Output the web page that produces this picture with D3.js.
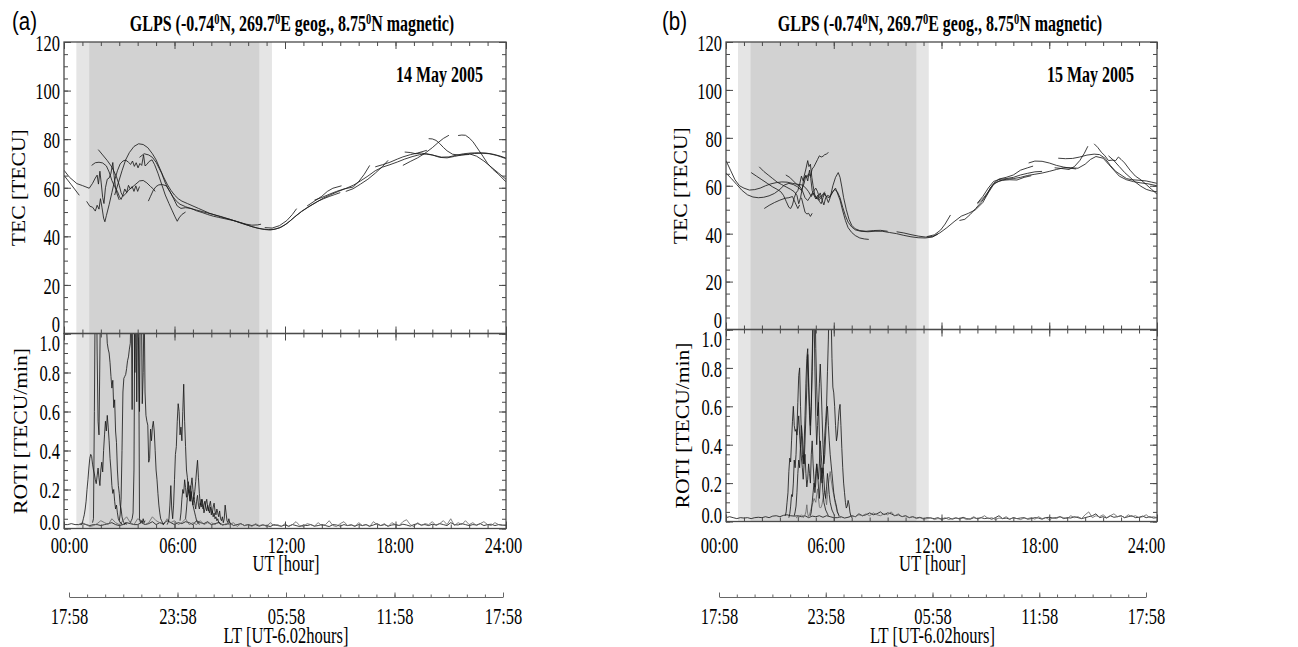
<!DOCTYPE html>
<html>
<head>
<meta charset="utf-8">
<script src="https://cdn.jsdelivr.net/npm/d3@7"></script>
<style>
  body { margin: 0; background: #fff; }
</style>
</head>
<body>
<div id="chart"></div>
<script>
// ---------------- data ----------------
var hourTicks = [0, 6, 12, 18, 24];
var utLabels = ["00:00", "06:00", "12:00", "18:00", "24:00"];
var ltLabels = ["17:58", "23:58", "05:58", "11:58", "17:58"];
var tecTicks = [0, 20, 40, 60, 80, 100, 120];
var rotiTicks = [0, 0.2, 0.4, 0.6, 0.8, 1.0];
var dates = ["14 May 2005", "15 May 2005"];
var titleParts = [["GLPS (-0.74", 0], ["0", 1], ["N, 269.7", 0], ["0", 1], ["E geog., 8.75", 0], ["0", 1], ["N magnetic)", 0]];

// night shading, UT hours: [start, end]
var nightLightA = [0.67, 11.29], nightDarkA = [1.37, 10.6];
var nightLightB = [0.67, 11.29], nightDarkB = [1.37, 10.6];

// TEC arcs, 14 May 2005: [UT hour, TECU]
var tecA = [
  [[0,67.2],[0.3,64.3],[0.7,61.7],[1.0,60.9],[1.37,59.8],[1.55,61.8],[1.7,64],[1.8,65.2],[1.87,61.5],[1.95,66.8],[2.02,62],[2.1,56],[2.17,53.5],[2.25,60],[2.35,63.5],[2.45,64],[2.55,66],[2.65,70.4],[2.72,65],[2.8,60],[2.9,57],[3.0,55]],
  [[0,65.1],[0.4,61.2],[0.83,56.9]],
  [[1.23,54.4],[1.4,52.4],[1.55,52],[1.7,50.4],[1.8,52.8],[1.9,51.2],[1.98,55.5],[2.06,52],[2.15,47.5],[2.22,46],[2.3,48.5],[2.45,53],[2.6,58],[2.75,63],[2.9,67],[3.05,69.8],[3.2,71],[3.35,71.4],[3.5,70.5],[3.62,69.6],[3.72,71],[3.82,68.8],[3.92,70.3],[4.02,68.2],[4.12,70],[4.22,69.2],[4.32,73.5],[4.4,69],[4.5,69.6],[4.62,70.8],[4.78,71.5],[4.92,69.5],[5.1,66],[5.3,61.5],[5.5,57],[5.7,53.5],[5.88,50.5],[6.03,48],[6.15,46.2],[6.25,47.6],[6.4,49],[6.6,50]],
  [[2.75,57],[2.95,62],[3.15,67],[3.35,71.5],[3.55,74.5],[3.8,77],[4.05,78.1],[4.3,77.8],[4.55,76.5],[4.8,74],[5.0,71.5],[5.2,68],[5.4,64.5],[5.6,61.5],[5.8,59],[6.0,57],[6.2,55.5],[6.4,54.5],[6.7,53.5],[7.0,52.5],[7.3,51.5],[7.6,50.5],[7.9,49.5],[8.2,48.8],[8.5,48.2],[8.8,47.5],[9.1,46.8],[9.4,46],[9.7,45.2],[10.0,44.5],[10.3,43.8],[10.6,43.2],[10.9,42.8],[11.2,42.6],[11.5,43],[11.8,43.8],[12.1,45.2],[12.5,47.8],[12.9,50.2],[13.3,52.2],[13.7,54],[14.1,55.8],[14.5,57.2],[14.9,58.5],[15.3,59.7],[15.7,61],[16.1,62.8],[16.5,64.8],[16.9,67],[17.3,68.5],[17.7,69.5],[18.1,70.6],[18.5,71.8],[18.9,72.8],[19.3,73.6],[19.7,74],[20.1,73.3],[20.5,72.6],[20.9,72.7],[21.3,73.4],[21.7,74],[22.1,74.3],[22.5,74.4],[22.9,74.3],[23.3,73.8],[23.7,73],[24,72.2]],
  [[1.86,75.7],[2.1,73.5],[2.35,71.2],[2.6,68.5],[2.85,64.5],[3.0,61],[3.1,58],[3.2,56.5],[3.35,57.5],[3.5,59],[3.7,60.2],[3.9,61.5],[4.1,62.8],[4.3,63],[4.5,62],[4.7,60.5],[4.85,59.5],[4.95,58.5]],
  [[1.5,69.2],[1.7,70.3],[1.9,70.5],[2.1,70.2],[2.3,69],[2.45,66.5],[2.6,63],[2.75,60.5],[2.9,58.5],[3.0,56.5],[3.1,55.2],[3.2,57],[3.3,59.5],[3.4,58],[3.5,61],[3.6,59.5],[3.7,60.5],[3.8,58.5],[3.9,60.8],[4.0,58.5],[4.1,60.5]],
  [[4.58,54.5],[4.7,56.5],[4.85,59],[5.0,60.5],[5.15,61.2],[5.35,61.3],[5.55,60.8],[5.75,58.5],[5.95,55.5],[6.15,52.5],[6.35,51.5],[6.6,51.8],[6.9,51.5],[7.2,50.5],[7.5,49.8],[7.8,49],[8.1,48.3],[8.4,47.8],[8.7,47.3],[9.0,46.8],[9.3,46.3],[9.6,45.6],[9.9,45],[10.2,44.6],[10.5,44.7],[10.7,45]],
  [[4.1,72.5],[4.35,74],[4.6,73.5],[4.8,72.5],[5.0,70.5],[5.3,66],[5.5,62],[5.7,59],[5.9,56.5],[6.1,54.5],[6.3,53.2],[6.6,52.2],[6.9,51.4],[7.2,50.8],[7.5,50.2],[7.8,49.6],[8.1,49],[8.4,48.3],[8.7,47.6],[9.0,47],[9.3,46.3],[9.6,45.6],[9.9,44.8],[10.2,44],[10.5,43.4],[10.8,43],[11.1,42.8],[11.4,42.9],[11.7,43.5],[12.0,44.8],[12.3,46.5],[12.6,48.5],[12.9,50.3],[13.2,51.8],[13.5,53.2],[13.8,54.5],[14.1,55.5],[14.4,56.4],[14.7,57.2],[15.0,58]],
  [[10.9,43.6],[11.3,43.4],[11.7,44.4],[12.1,46.5],[12.4,49],[12.63,51.4]],
  [[13.6,54.9],[14.0,56],[14.4,57.3],[14.8,58.5],[15.2,59.5],[15.7,60.3],[16.0,62.5],[16.3,65.5],[16.6,69.2]],
  [[13.2,52.5],[13.6,54.5],[14.0,56.5],[14.3,58.5],[14.6,59.8],[15.07,60.8]],
  [[15.3,58.5],[15.7,59.6],[16.1,61.5],[16.5,63.5],[16.9,66],[17.3,68.8],[17.6,71.3]],
  [[16.9,68.6],[17.3,69.5],[17.7,70.5],[18.1,71.8],[18.4,72.7],[18.8,73.6],[19.2,74.3],[19.7,75.4]],
  [[18.5,74.7],[18.8,74.5],[19.1,74],[19.4,74.3],[19.7,73.8],[20.0,73.5],[20.4,72.5],[20.8,72.3],[21.2,72.9],[21.6,73.5],[22.0,73.7]],
  [[18.4,69.2],[18.8,70.8],[19.2,72.3],[19.6,74.2],[20.0,76.5],[20.3,78.5],[20.6,80.3],[20.9,81.6]],
  [[19.8,80.2],[20.0,80.1],[20.2,79.5],[20.4,78.2],[20.6,76.6],[20.8,75.2],[21.1,73.8],[21.5,73.4],[21.9,73.8],[22.3,74.1],[22.7,74.2],[23.1,74],[23.5,73.3],[24,72]],
  [[21.4,81.5],[21.6,81.7],[21.8,81.6],[22.0,80.5],[22.2,79],[22.4,76.8],[22.7,73.5],[23.0,70],[23.3,67.5],[23.6,65.5],[24,62.4]],
  [[22.0,74],[22.4,73],[22.8,71],[23.2,68.5],[23.6,66],[24,63.5]]
];

// TEC arcs, 15 May 2005
var tecB = [
  [[0,70.5],[0.25,66.5],[0.5,62.5],[0.75,60],[1.0,59],[1.3,58.2],[1.6,58.4],[1.9,59],[2.2,60],[2.5,60.8],[2.8,61.3],[3.1,61.6],[3.4,61.5],[3.7,61],[4.0,60.6],[4.25,60.3],[4.45,59],[4.6,57.5],[4.75,55.5],[4.85,57],[5.0,55.5],[5.15,54],[5.3,55],[5.45,56.5],[5.6,55.5],[5.75,55],[5.9,57],[6.05,58.5],[6.2,57.5],[6.35,55],[6.5,51],[6.65,47.5],[6.8,44.8],[7.0,42.8],[7.2,41.6],[7.5,41],[7.9,40.8],[8.3,41],[8.7,41],[9.1,40.5],[9.5,40],[9.9,39.3],[10.3,38.7],[10.7,38.3],[11.1,38.2],[11.5,38.6],[11.8,39.8]],
  [[0,65.3],[0.3,63],[0.6,60.5],[0.9,58],[1.2,56.2],[1.5,55.3],[1.8,55],[2.1,55.2],[2.4,55.8],[2.7,56.8],[3.0,58.5],[3.25,60.3],[3.5,61],[3.75,60.5],[4.0,59.5],[4.2,58],[4.35,61],[4.45,64.5],[4.55,62],[4.65,66.5],[4.72,63],[4.8,58],[4.9,56],[5.0,54.5],[5.1,56],[5.2,53.5],[5.3,52.5],[5.4,55],[5.5,57],[5.6,55],[5.7,53],[5.8,55],[5.95,60],[6.1,63.5],[6.25,65.5],[6.35,63.5],[6.45,59.5],[6.55,55],[6.7,50],[6.85,46],[7.0,43.5],[7.2,42],[7.45,41.3],[7.8,41],[8.2,41.3],[8.6,41.4],[9.0,41]],
  [[1.4,65.5],[1.7,64],[2.0,62.5],[2.3,61],[2.6,59.5],[2.85,58.5],[3.05,57.5],[3.2,56],[3.35,53.5],[3.5,51],[3.6,50.5],[3.7,52],[3.8,55],[3.9,57],[4.0,58],[4.1,60.5],[4.2,64],[4.3,62],[4.4,64],[4.5,63.5],[4.6,65],[4.7,64],[4.8,67],[4.9,68],[5.0,69.5],[5.1,71],[5.2,72.5],[5.3,72],[5.4,72.3],[5.5,73],[5.6,73.2],[5.7,74]],
  [[1.85,67.9],[2.1,66],[2.35,64.5],[2.6,63],[2.85,61.5],[3.1,60.5],[3.35,59.5],[3.6,58.5],[3.8,57.5],[3.95,56],[4.05,52.5],[4.15,55],[4.25,59],[4.35,64],[4.45,67],[4.55,70.5],[4.62,68],[4.7,69],[4.78,63.5],[4.85,60],[4.95,56],[5.05,54.5],[5.15,55.5],[5.25,57],[5.35,54],[5.45,52],[5.55,55],[5.65,56],[5.8,55.5],[5.95,57.5],[6.1,59],[6.2,57],[6.35,54],[6.5,49.5],[6.65,45.5],[6.8,42.5],[7.0,40.5],[7.2,39.2],[7.45,38.2],[7.7,37.8],[7.95,37.6]],
  [[2.13,50.5],[2.4,51.8],[2.7,53],[3.0,54],[3.3,54.8],[3.5,55],[3.7,55.5],[3.85,53],[4.0,50.5],[4.1,52]],
  [[4.2,55],[4.3,52],[4.4,49],[4.5,48.2],[4.6,48.5],[4.7,47.2],[4.8,48.5]],
  [[3.33,64.5],[3.55,63.5],[3.75,62],[3.95,60.5],[4.1,59.8],[4.25,58],[4.4,55],[4.55,53.8],[4.7,55.5],[4.85,57.5],[5.0,59],[5.1,57.5],[5.2,55],[5.35,56],[5.5,57.5]],
  [[9.5,40.8],[9.9,40.3],[10.3,39.6],[10.7,39],[11.1,38.6],[11.5,38.8],[11.9,40.3],[12.3,42.5],[12.7,45],[13.1,47.3],[13.5,48.5],[13.9,50],[14.3,53],[14.6,57],[14.9,60.5],[15.2,62],[15.6,62.7],[16.0,63],[16.4,63.5],[16.8,64.3],[17.2,64.8],[17.6,65.3],[18.0,66],[18.4,66.8],[18.8,67.5],[19.2,67.5],[19.6,67.3],[20.0,69],[20.3,71],[20.6,72.2],[21.0,71.5],[21.3,69],[21.6,66.5],[21.9,64],[22.3,62.5],[22.7,61.7],[23.1,61.2],[23.5,60.8],[24,60]],
  [[11.2,38.8],[11.6,39.5],[11.95,41.5],[12.2,44],[12.5,47.8]],
  [[13.0,45.5],[13.3,46],[13.6,48],[13.9,50.5],[14.2,53],[14.5,56],[14.75,59.5],[15.0,61.3],[15.4,62.3],[15.8,62.5],[16.2,62.4],[16.6,63.5],[17.0,64.2]],
  [[14.0,52.5],[14.3,54.5],[14.6,57.5],[14.9,61],[15.2,62.8],[15.6,63.5],[16.0,64.5],[16.4,66.5],[16.8,67.5],[17.1,68.2]],
  [[16.85,69.5],[17.2,70.3],[17.6,70.2],[18.0,69.5],[18.4,68.5],[18.8,67.8],[19.2,67.3],[19.5,67]],
  [[18.5,71.5],[18.9,71.3],[19.3,71.4],[19.7,72],[20.1,72.8],[20.5,73.2],[20.8,73],[21.1,71.5],[21.4,68.5],[21.7,66],[22.0,64.5],[22.3,63],[22.6,62.5],[23.0,62.3],[23.4,62],[23.7,61.5],[24,61]],
  [[18.3,67.5],[18.7,67.2],[19.1,66.8],[19.4,68],[19.7,70.5],[19.95,73.5],[20.15,76.5]],
  [[20.5,77.5],[20.7,76],[20.9,74],[21.1,72.5],[21.3,70.5],[21.5,70.7],[21.7,70.5],[21.85,72],[22.0,71],[22.2,69.5],[22.5,66.5],[22.8,64],[23.1,62.5],[23.4,60.5],[23.7,58.5],[24,56.5]],
  [[21.3,72.5],[21.6,70.5],[21.9,68],[22.2,65.5],[22.5,63.5],[22.8,61.5],[23.1,59.8],[23.4,58.5],[23.7,57.8],[24,57.5]],
  [[14.0,52.8],[14.3,55.5],[14.6,59],[14.9,61.8],[15.2,62.6],[15.6,63],[16.0,63.5],[16.4,64.5],[16.8,65.2],[17.2,65.8],[17.6,66]]
];

// ROTI series: start hour, step (hours), values (TECU/min)
var rotiA = [
  {t0: 0, dt: 0.2, gray: 0, v: [0.02,0.02,0.025,0.02,0.02,0.025,0.02,0.015,0.02,0.02,0.015,
    0.02,0.025,0.03,0.02,0.015,0.02,0.03,0.025,0.02,0.02, 0.03,0.02,0.025,0.035,0.02,0.03,0.025,0.04,0.03,0.02,
    0.03,0.025,0.035,0.03,0.02,0.04,0.03,0.025,0.035,0.02, 0.025,0.03,0.02,0.02,0.03,0.015,0.02,0.025,0.015,0.02,
    0.015,0.02,0.012,0.018,0.015,0.01,0.02,0.015,0.012,0.018, 0.012,0.02,0.015,0.01,0.018,0.015,0.02,0.012,0.015,0.02,
    0.015,0.01,0.02,0.018,0.012,0.02,0.015,0.018,0.012,0.02, 0.015,0.02,0.012,0.018,0.025,0.015,0.02,0.012,0.018,0.02,
    0.015,0.022,0.018,0.012,0.02,0.025,0.018,0.02,0.015,0.022, 0.018,0.025,0.02,0.015,0.03,0.02,0.018,0.025,0.02,0.015,
    0.02,0.018,0.025,0.015,0.02,0.022,0.015,0.02,0.018,0.015]},
  {t0: 8.0, dt: 0.2, gray: 1, v: [0.03,0.02,0.035,0.015,0.025,0.02,0.03,0.01,0.025,0.015,
    0.02,0.01,0.025,0.015,0.02,0.01,0.03,0.015,0.02,0.01, 0.025,0.01,0.02,0.035,0.015,0.01,0.025,0.02,0.012,0.03,
    0.015,0.02,0.04,0.015,0.01,0.025,0.035,0.015,0.02,0.01, 0.03,0.015,0.02,0.01,0.035,0.02,0.015,0.025,0.01,0.03,
    0.02,0.015,0.035,0.045,0.02,0.01,0.03,0.015,0.025,0.02, 0.035,0.015,0.025,0.04,0.02,0.05,0.015,0.03,0.02,0.04,
    0.02,0.03,0.015,0.025,0.035,0.02,0.015,0.03,0.02,0.015,0.02]},
  {t0: 0.8, dt: 0.2, gray: 1, v: [0.02,0.03,0.02,0.01,0.015,0.025,0.04,0.03,0.02,0.05,0.03,0.02,0.04,0.06,0.03,0.02,0.05,0.04,0.02,0.03,0.06,0.04,0.03,0.02,0.05,0.03,0.04,0.02,0.03,0.05,0.02,0.03,0.02,0.04,0.02,0.03,0.02]},
  {t0: 0.9, dt: 0.05, gray: 0, v: [0.02,0.02,0.03,0.05,0.07,0.10,0.14,0.20,0.25,0.31,0.36,0.38,0.37,0.33,0.30,0.28,0.25,0.23,0.27,0.31,0.26,0.22,0.30,0.34,0.29,0.40,0.48,0.55,0.50,0.58,0.52,0.45,0.36,0.30,0.22,0.18,0.20,0.14,0.10,0.12,0.08,0.05,0.04,0.03,0.03,0.02]},
  {t0: 1.55, dt: 0.05, gray: 0, v: [0.03,0.05,0.60,1.30,1.40,0.90,0.55,0.48,0.90,1.30,1.20,1.10,1.20,1.25,1.15,1.05,0.95,0.92,0.90,0.85,0.78,0.72,0.76,0.62,0.66,0.50,0.44,0.30,0.22,0.18,0.12,0.10,0.06,0.04,0.03,0.02,0.03,0.02]},
  {t0: 3.0, dt: 0.05, gray: 0, v: [0.04,0.07,0.15,0.40,0.70,0.77,0.78,0.79,0.82,0.86,0.88,0.92,0.95,1.20,0.61,1.30,1.50,0.80,1.30,1.40,1.20,0.92,0.60,1.30,1.20,0.64,0.80,1.20,0.70,0.58,0.55,0.53,0.34,0.36,0.51,0.45,0.52,0.55,0.50,0.40,0.30,0.25,0.18,0.12,0.08,0.05,0.04,0.03,0.02,0.03]},
  {t0: 3.6, dt: 0.05, gray: 0, v: [0.03,0.04,0.05,0.08,0.30,1.20,1.30,0.65,1.20,1.10,0.05,0.03,0.04,0.03,0.05,0.03,0.04]},
  {t0: 5.6, dt: 0.05, gray: 0, v: [0.02,0.03,0.05,0.12,0.22,0.10,0.05,0.12,0.25,0.38,0.42,0.55,0.64,0.60,0.48,0.52,0.45,0.60,0.74,0.55,0.42,0.30,0.26,0.20,0.18,0.22,0.19,0.15,0.12,0.10,0.08,0.06,0.04,0.03,0.03,0.02]},
  {t0: 6.3, dt: 0.05, gray: 0, v: [0.04,0.08,0.15,0.20,0.18,0.25,0.21,0.16,0.20,0.24,0.18,0.14,0.22,0.26,0.20,0.15,0.19,0.24,0.30,0.35,0.26,0.18,0.12,0.15,0.13,0.10,0.12,0.14,0.11,0.09,0.12,0.10,0.08,0.11,0.07,0.09,0.06,0.08,0.05,0.06,0.04,0.05,0.03,0.03,0.02]},
  {t0: 6.6, dt: 0.05, gray: 0, v: [0.05,0.10,0.16,0.20,0.17,0.14,0.19,0.15,0.12,0.16,0.13,0.10,0.14,0.17,0.12,0.10,0.13,0.11,0.15,0.12,0.08,0.10,0.13,0.15,0.11,0.09,0.12,0.14,0.10,0.08,0.11,0.13,0.09,0.07,0.10,0.08,0.06,0.09,0.05,0.04,0.06,0.03,0.05,0.12,0.08,0.04,0.03,0.05,0.03,0.02]}
];

var rotiB = [
  {t0: 0, dt: 0.2, gray: 0, v: [0.02,0.025,0.02,0.015,0.02,0.018,0.02,0.015,0.02,0.022,0.02,
    0.025,0.02,0.028,0.03,0.025,0.032,0.035,0.03,0.028,0.03, 0.025,0.03,0.02,0.028,0.025,0.03,0.022,0.03,0.025,0.02,
    0.02,0.025,0.018,0.022,0.03,0.025,0.04,0.03,0.035,0.045, 0.035,0.04,0.05,0.035,0.045,0.04,0.03,0.035,0.025,0.03,
    0.02,0.025,0.018,0.022,0.015,0.02,0.018,0.015,0.02,0.012, 0.015,0.02,0.012,0.018,0.015,0.022,0.015,0.012,0.02,0.015,
    0.02,0.015,0.018,0.012,0.02,0.03,0.015,0.018,0.012,0.02, 0.015,0.018,0.02,0.012,0.015,0.02,0.018,0.012,0.02,0.022,
    0.018,0.02,0.025,0.015,0.02,0.018,0.025,0.02,0.015,0.02, 0.025,0.03,0.04,0.02,0.025,0.018,0.03,0.022,0.025,0.03,
    0.02,0.025,0.03,0.02,0.022,0.028,0.02,0.025,0.018,0.02]},
  {t0: 6.8, dt: 0.2, gray: 1, v: [0.02,0.03,0.025,0.035,0.03,0.04,0.03,0.045,0.035,0.03,
    0.04,0.035,0.05,0.03,0.04,0.025,0.03,0.02,0.025,0.015, 0.02,0.012,0.015,0.02,0.01,0.015,0.012,0.02,0.01,0.015,
    0.02,0.012,0.018,0.01,0.015,0.025,0.012,0.02,0.03,0.015, 0.02,0.01,0.018,0.015,0.025,0.012,0.02,0.015,0.01,0.018,
    0.015,0.02,0.012,0.025,0.015,0.02,0.01,0.018,0.015,0.025, 0.02,0.015,0.03,0.02,0.025,0.015,0.035,0.05,0.02,0.03,
    0.025,0.035,0.02,0.03,0.04,0.025,0.03,0.02,0.035,0.025, 0.03,0.02,0.025,0.035,0.02,0.025,0.02]},
  {t0: 3.9, dt: 0.05, gray: 1, v: [0.02,0.02,0.03,0.02,0.03,0.03,0.035,0.03,0.02,0.03,0.035,0.05,0.087,0.04,0.026,0.035,0.052,0.07,0.087,0.1,0.12,0.11,0.1,0.14,0.17,0.12,0.078,0.07,0.075,0.09,0.12,0.14,0.16,0.12,0.087,0.14,0.19,0.23,0.26,0.22,0.19,0.16,0.14,0.11,0.087,0.07,0.052,0.04,0.026,0.02,0.02]},
  {t0: 3.3, dt: 0.05, gray: 0, v: [0.03,0.05,0.10,0.15,0.26,0.33,0.31,0.42,0.52,0.60,0.50,0.47,0.48,0.45,0.50,0.55,0.45,0.38,0.33,0.28,0.22,0.30,0.35,0.25,0.18,0.22,0.30,0.25,0.20,0.35,0.42,0.30,0.22,0.15,0.20,0.30,0.25,0.18,0.12,0.20,0.28,0.22,0.15,0.10,0.08,0.06,0.05,0.04,0.03]},
  {t0: 3.5, dt: 0.05, gray: 0, v: [0.02,0.04,0.08,0.14,0.13,0.20,0.32,0.28,0.35,0.48,0.62,0.76,0.80,0.60,0.45,0.35,0.30,0.40,0.55,0.72,0.85,0.90,0.70,0.55,0.45,0.60,0.78,1.05,1.10,0.80,0.55,0.40,0.50,0.62,0.45,0.30,0.25,0.20,0.28,0.22,0.15,0.12,0.18,0.25,0.20,0.14,0.10,0.08,0.06,0.05,0.04,0.03]},
  {t0: 3.8, dt: 0.05, gray: 0, v: [0.03,0.05,0.08,0.15,0.25,0.32,0.28,0.40,0.50,0.45,0.35,0.30,0.42,0.55,0.70,0.87,0.75,0.60,0.50,0.62,0.85,1.10,1.30,1.20,0.90,0.70,0.55,0.60,0.72,0.82,0.70,0.55,0.40,0.30,0.35,0.45,0.55,0.60,0.50,0.42,0.35,0.30,0.25,0.20,0.15,0.12,0.10,0.08,0.05,0.04,0.03]},
  {t0: 4.7, dt: 0.05, gray: 0, v: [0.03,0.05,0.10,0.15,0.20,0.18,0.25,0.30,0.26,0.22,0.30,0.42,0.35,0.28,0.25,0.35,0.45,0.52,0.60,0.78,0.95,1.20,1.30,1.10,0.85,0.70,0.67,0.60,0.50,0.42,0.45,0.52,0.58,0.61,0.50,0.38,0.28,0.20,0.15,0.10,0.07,0.08,0.11,0.09,0.05,0.03,0.02]}
];

// ---------------- drawing ----------------
var K = 1.45;           // vertical stretch of the original lettering
var SERIF = "'Liberation Serif','Times New Roman',Times,serif";
var SANS = "'Liberation Sans',Arial,Helvetica,sans-serif";
var AX = "#4a4a4a";
var LINE = "#1c1c1c";
var FS = 16.5;

var svg = d3.select("#chart").append("svg")
  .attr("width", 1298).attr("height", 647)
  .style("background", "#fff");
var defs = svg.append("defs");

// move x/y into a transform so the glyphs can be stretched vertically
function stretch(sel, k) {
  sel.each(function() {
    var t = d3.select(this);
    var x = +t.attr("x") || 0, y = +t.attr("y") || 0;
    t.attr("x", null).attr("y", null)
      .attr("transform", "translate(" + x + "," + y + ") scale(1," + (k || K) + ")");
  });
}

function label(g, x, y, str, size, anchor, weight) {
  var t = g.append("text")
    .attr("x", x).attr("y", y).attr("dy", "0.35em")
    .attr("font-family", SERIF).attr("font-size", size)
    .attr("font-weight", weight || "normal")
    .attr("text-anchor", anchor || "middle")
    .text(str);
  stretch(t);
  return t;
}

function tickAxis(g, gen, scale, vals, len, fmt) {
  var a = gen(scale).tickValues(vals).tickSize(-len).tickPadding(4).tickFormat(fmt || "");
  g.call(a);
  g.select(".domain").remove();
  g.selectAll(".tick line").attr("stroke", AX).attr("stroke-width", 1);
  g.attr("font-family", SERIF).attr("font-size", FS);
  return g;
}

function drawPanel(p) {
  var x = d3.scaleLinear().domain([0, 24]).range([p.x0, p.x1]);
  var yT = d3.scaleLinear().domain([0, 120]).range([p.yMid, p.yTop]);
  var yR = d3.scaleLinear().domain([0, 1]).range([p.yBot, p.yMid]);
  var lt = d3.scaleLinear().domain([0, 24]).range([p.lt0, p.lt1]);
  var w = p.x1 - p.x0;
  var g = svg.append("g");

  // night shading
  g.append("rect").attr("x", x(p.light[0])).attr("width", x(p.light[1]) - x(p.light[0]))
    .attr("y", p.yTop).attr("height", p.yBot - p.yTop).attr("fill", "#e5e5e5");
  g.append("rect").attr("x", x(p.dark[0])).attr("width", x(p.dark[1]) - x(p.dark[0]))
    .attr("y", p.yTop).attr("height", p.yBot - p.yTop).attr("fill", "#d2d2d2");

  defs.append("clipPath").attr("id", "clipT" + p.id).append("rect")
    .attr("x", p.x0).attr("y", p.yTop).attr("width", w).attr("height", p.yMid - p.yTop);
  defs.append("clipPath").attr("id", "clipR" + p.id).append("rect")
    .attr("x", p.x0).attr("y", p.yMid).attr("width", w).attr("height", p.yBot - p.yMid);

  // TEC arcs
  var lineT = d3.line().x(function(d) { return x(d[0]); }).y(function(d) { return yT(d[1]); });
  g.append("g").attr("clip-path", "url(#clipT" + p.id + ")")
    .selectAll("path").data(p.tec).join("path")
    .attr("d", lineT).attr("fill", "none")
    .attr("stroke", LINE).attr("stroke-width", 0.85);

  // ROTI series
  var lineR = d3.line().x(function(d) { return x(d[0]); }).y(function(d) { return yR(d[1]); });
  var series = p.roti.map(function(s) {
    return { gray: s.gray, pts: s.v.map(function(v, i) { return [s.t0 + i * s.dt, v]; }) };
  });
  g.append("g").attr("clip-path", "url(#clipR" + p.id + ")")
    .selectAll("path").data(series).join("path")
    .attr("d", function(d) { return lineR(d.pts); }).attr("fill", "none")
    .attr("stroke", function(d) { return d.gray ? "#6a6a6a" : LINE; })
    .attr("stroke-width", 0.85);

  // frames
  g.append("rect").attr("x", p.x0).attr("y", p.yTop).attr("width", w).attr("height", p.yMid - p.yTop)
    .attr("fill", "none").attr("stroke", AX).attr("stroke-width", 1.3);
  g.append("rect").attr("x", p.x0).attr("y", p.yMid).attr("width", w).attr("height", p.yBot - p.yMid)
    .attr("fill", "none").attr("stroke", AX).attr("stroke-width", 1.3);

  var hours = d3.range(0, 25, 1);

  // TEC ticks
  tickAxis(g.append("g").attr("transform", "translate(" + p.x0 + ",0)"), d3.axisLeft, yT, d3.range(0, 121, 5), 4);
  var tl = tickAxis(g.append("g").attr("transform", "translate(" + p.x0 + ",0)"), d3.axisLeft, yT, tecTicks, 7, d3.format("d"));
  tl.selectAll(".tick text").attr("x", -4).attr("dy", "0.35em")
    .attr("y", function(d) { return d === 0 ? -10 : 0; });
  stretch(tl.selectAll(".tick text"));
  tickAxis(g.append("g").attr("transform", "translate(" + p.x1 + ",0)"), d3.axisRight, yT, d3.range(0, 121, 5), 4);
  tickAxis(g.append("g").attr("transform", "translate(" + p.x1 + ",0)"), d3.axisRight, yT, tecTicks, 7);
  tickAxis(g.append("g").attr("transform", "translate(0," + p.yTop + ")"), d3.axisTop, x, hours, 4);
  tickAxis(g.append("g").attr("transform", "translate(0," + p.yTop + ")"), d3.axisTop, x, hourTicks, 7);
  tickAxis(g.append("g").attr("transform", "translate(0," + p.yMid + ")"), d3.axisBottom, x, hours, 4);
  tickAxis(g.append("g").attr("transform", "translate(0," + p.yMid + ")"), d3.axisBottom, x, hourTicks, 7);

  // ROTI ticks
  tickAxis(g.append("g").attr("transform", "translate(" + p.x0 + ",0)"), d3.axisLeft, yR, d3.range(0, 1.001, 0.05), 4);
  var rl = tickAxis(g.append("g").attr("transform", "translate(" + p.x0 + ",0)"), d3.axisLeft, yR, rotiTicks, 7, d3.format(".1f"));
  rl.selectAll(".tick text").attr("x", -4).attr("dy", "0.35em")
    .attr("y", function(d) { return d === 0 ? -7 : (d === 1 ? 9 : 0); });
  stretch(rl.selectAll(".tick text"));
  tickAxis(g.append("g").attr("transform", "translate(" + p.x1 + ",0)"), d3.axisRight, yR, d3.range(0, 1.001, 0.05), 4);
  tickAxis(g.append("g").attr("transform", "translate(" + p.x1 + ",0)"), d3.axisRight, yR, rotiTicks, 7);
  tickAxis(g.append("g").attr("transform", "translate(0," + p.yMid + ")"), d3.axisTop, x, hours, 4);
  tickAxis(g.append("g").attr("transform", "translate(0," + p.yMid + ")"), d3.axisTop, x, hourTicks, 7);
  tickAxis(g.append("g").attr("transform", "translate(0," + p.yBot + ")"), d3.axisBottom, x, hours, 4);
  tickAxis(g.append("g").attr("transform", "translate(0," + p.yBot + ")"), d3.axisBottom, x, hourTicks, 7);

  // UT labels
  var ut = g.append("g").attr("transform", "translate(0,545)")
    .call(d3.axisBottom(lt).tickValues(hourTicks).tickSize(0)
      .tickFormat(function(d, i) { return utLabels[i]; }));
  ut.select(".domain").remove();
  ut.attr("font-family", SERIF).attr("font-size", FS);
  ut.selectAll(".tick text").attr("y", 0).attr("dy", "0.35em");
  stretch(ut.selectAll(".tick text"));
  label(g, (p.lt0 + p.lt1) / 2, 563, "UT [hour]", FS);

  // LT axis
  var lg = g.append("g").attr("transform", "translate(0,597)")
    .call(d3.axisBottom(lt).tickValues(hours).tickSize(-2.5).tickSizeOuter(0).tickFormat(""));
  lg.select(".domain").attr("stroke", "#666");
  lg.selectAll(".tick line").attr("stroke", "#666");
  var lm = g.append("g").attr("transform", "translate(0,597)")
    .call(d3.axisBottom(lt).tickValues(hourTicks).tickSize(-4.5)
      .tickFormat(function(d, i) { return ltLabels[i]; }));
  lm.select(".domain").remove();
  lm.selectAll(".tick line").attr("stroke", "#666");
  lm.attr("font-family", SERIF).attr("font-size", FS);
  lm.selectAll(".tick text").attr("y", 19).attr("dy", "0.35em");
  stretch(lm.selectAll(".tick text"));
  label(g, (p.lt0 + p.lt1) / 2, 635, "LT [UT-6.02hours]", FS);

  // axis titles (rotated)
  g.append("text")
    .attr("transform", "translate(" + (p.x0 - 45) + "," + ((p.yTop + p.yMid) / 2) + ") scale(1.15,1.35) rotate(-90)")
    .attr("dy", "0.35em").attr("text-anchor", "middle")
    .attr("font-family", SERIF).attr("font-size", 16).text("TEC [TECU]");
  g.append("text")
    .attr("transform", "translate(" + (p.x0 - 43) + "," + ((p.yMid + p.yBot) / 2) + ") scale(1.15,1.35) rotate(-90)")
    .attr("dy", "0.35em").attr("text-anchor", "middle")
    .attr("font-family", SERIF).attr("font-size", 16).text("ROTI [TECU/min]");

  // title with superscript degrees
  var tt = g.append("text").attr("x", p.titleX).attr("y", 23).attr("dy", "0.35em")
    .attr("text-anchor", "middle").attr("font-family", SERIF)
    .attr("font-weight", "bold").attr("font-size", 16);
  var prevSup = 0;
  titleParts.forEach(function(part) {
    var ts = tt.append("tspan").text(part[0]);
    if (part[1]) ts.attr("dy", -5).attr("font-size", 10.5);
    else if (prevSup) ts.attr("dy", 5);
    prevSup = part[1];
  });
  stretch(tt);

  label(g, p.x1 - 23, 74, p.date, 16, "end", "bold");

  var pl = g.append("text").attr("x", p.labelX).attr("y", 21).attr("dy", "0.35em")
    .attr("font-family", SANS).attr("font-size", 20.5).text(p.tag);
  stretch(pl, 1.22);
}

drawPanel({ id: "a", tag: "(a)", labelX: 12, titleX: 292, date: dates[0],
  x0: 64, x1: 506, yTop: 42, yMid: 333.5, yBot: 528.5, lt0: 69, lt1: 503,
  light: nightLightA, dark: nightDarkA, tec: tecA, roti: rotiA });
drawPanel({ id: "b", tag: "(b)", labelX: 662, titleX: 940, date: dates[1],
  x0: 726, x1: 1157, yTop: 42, yMid: 329.5, yBot: 521.5, lt0: 719, lt1: 1146,
  light: nightLightB, dark: nightDarkB, tec: tecB, roti: rotiB });
</script>
</body>
</html>
